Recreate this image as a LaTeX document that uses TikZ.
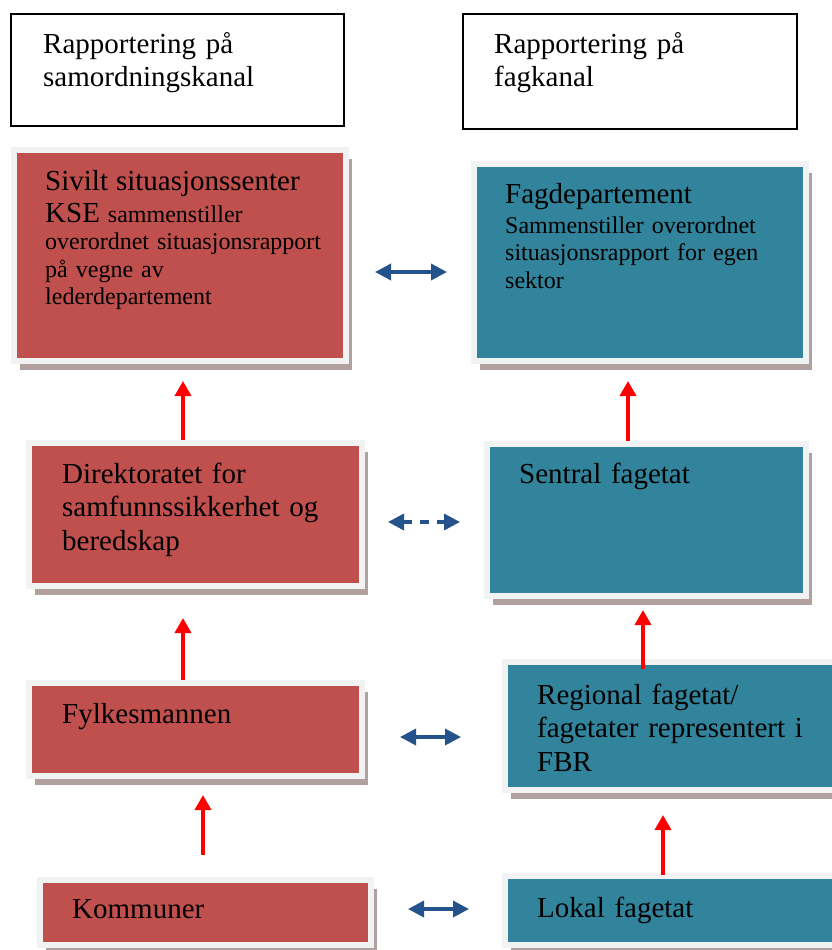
\documentclass[tikz,border=0pt]{standalone}
\usepackage{fontspec}
\setmainfont{Liberation Serif}
\usetikzlibrary{arrows.meta,calc,shadows}
\definecolor{rod}{RGB}{192,80,77}
\definecolor{bla}{RGB}{49,132,155}
\definecolor{pilbla}{RGB}{36,82,138}
\definecolor{ramme}{RGB}{241,242,242}
\definecolor{skygge}{RGB}{176,160,160}
\newcommand{\storskrift}{\fontsize{29}{33.5}\selectfont}
\tikzset{
>=Stealth,
boks/.style={rectangle,draw=ramme,line width=6pt,inner sep=0pt,
  drop shadow={shadow xshift=6pt,shadow yshift=-9pt,fill=skygge,opacity=1}},
red node/.style={boks,fill=rod},
blue node/.style={boks,fill=bla},
head node/.style={rectangle,draw=black,line width=2.2pt,inner sep=0pt},
tekst/.style={anchor=base west,inner sep=0pt,align=left,text width=300pt},
stor/.style={font=\storskrift},
liten/.style={font=\fontsize{24}{27.5}\selectfont},
opp/.style={-{Triangle[length=15pt,width=16pt]},line width=3.5pt,red},
begge/.style={{Triangle[length=16pt,width=16pt]}-{Triangle[length=16pt,width=16pt]},line width=3.5pt,pilbla}}

\begin{document}
\begin{tikzpicture}[x=1pt,y=-1pt]

\clip (0,0) rectangle (832,950);

% overskrifter
\node[head node,minimum width=333pt,minimum height=112pt] (h1) at (177.5,70) {};
\node[head node,minimum width=334pt,minimum height=115pt] (h2) at (630,71.5) {};
\node[tekst,stor] (h1t) at (43,53) {Rapportering på\\samordningskanal};
\node[tekst,stor] (h2t) at (494,53) {Rapportering på\\fagkanal};

% bokser
\node[red node,minimum width=332pt,minimum height=211pt] (1) at (180,255.5) {};
\node[blue node,minimum width=332pt,minimum height=197pt] (2) at (640,262.5) {};
\node[red node,minimum width=333pt,minimum height=143pt] (3) at (195.5,514.5) {};
\node[blue node,minimum width=319pt,minimum height=152pt] (4) at (646.5,520) {};
\node[red node,minimum width=333pt,minimum height=93pt] (5) at (195.5,729.5) {};
\node[blue node,minimum width=343pt,minimum height=128pt] (6) at (676.5,726) {};
\node[red node,minimum width=331pt,minimum height=65pt] (7) at (205.5,912.5) {};
\node[blue node,minimum width=343pt,minimum height=69pt] (8) at (676.5,910.5) {};

\node[tekst,liten] (1t) at (45,190) {{\storskrift Sivilt situasjonssenter}\\[4.5pt]
	{\storskrift KSE} sammenstiller\\overordnet situasjonsrapport\\på vegne av\\lederdepartement};
\node[tekst,liten] (2t) at (505,203) {{\storskrift Fagdepartement}\\[2.5pt]
	Sammenstiller overordnet\\situasjonsrapport for egen\\sektor};
\node[tekst,stor] (3t) at (62,483) {Direktoratet for\\samfunnssikkerhet og\\beredskap};
\node[tekst,stor] (4t) at (519,483) {Sentral fagetat};
\node[tekst,stor] (5t) at (62,723) {Fylkesmannen};
\node[tekst,stor] (6t) at (537,704) {Regional fagetat/\\fagetater representert i\\FBR};
\node[tekst,stor] (7t) at (72,918) {Kommuner};
\node[tekst,stor] (8t) at (537,917) {Lokal fagetat};

% piler opp
\coordinate (a1) at ([xshift=-12.5pt]3.north);
\coordinate (a2) at ([xshift=-12.5pt]5.north);
\coordinate (a3) at ([xshift=-2.5pt]7.north);
\coordinate (a4) at ([xshift=-18.5pt]4.north);
\coordinate (a5) at ([xshift=-33.5pt]6.north);
\coordinate (a6) at ([xshift=-13.5pt]8.north);
\path[opp]
	(a1) edge[shorten >=17pt] (a1 |- 1.south)
	(a2) edge[shorten >=29pt] (a2 |- 3.south)
	(a3) edge[shorten <=22pt,shorten >=16pt] (a3 |- 5.south)
	(a4) edge[shorten >=17pt] (a4 |- 2.south)
	(a5) edge[shorten <=-10pt,shorten >=11pt] (a5 |- 4.south)
	(a6) edge[shorten <=-2pt,shorten >=22pt] (a6 |- 6.south);

% piler mellom kanalene
\coordinate (b1) at ([yshift=-16.5pt]1.east);
\coordinate (b2) at ([yshift=-7.5pt]3.east);
\coordinate (b3) at ([yshift=-7.5pt]5.east);
\coordinate (b4) at ([yshift=3.5pt]7.east);
\path[begge]
	(b1) edge[shorten <=26pt,shorten >=24pt] (b1 -| 2.west)
	(b3) edge[shorten <=35pt,shorten >=41pt] (b3 -| 6.west)
	(b4) edge[shorten <=34pt,shorten >=33pt] (b4 -| 8.west);
\path[begge,dash pattern=on 9pt off 8pt]
	(b2) edge[shorten <=23pt,shorten >=24pt] (b2 -| 4.west);
\end{tikzpicture}
\end{document}
